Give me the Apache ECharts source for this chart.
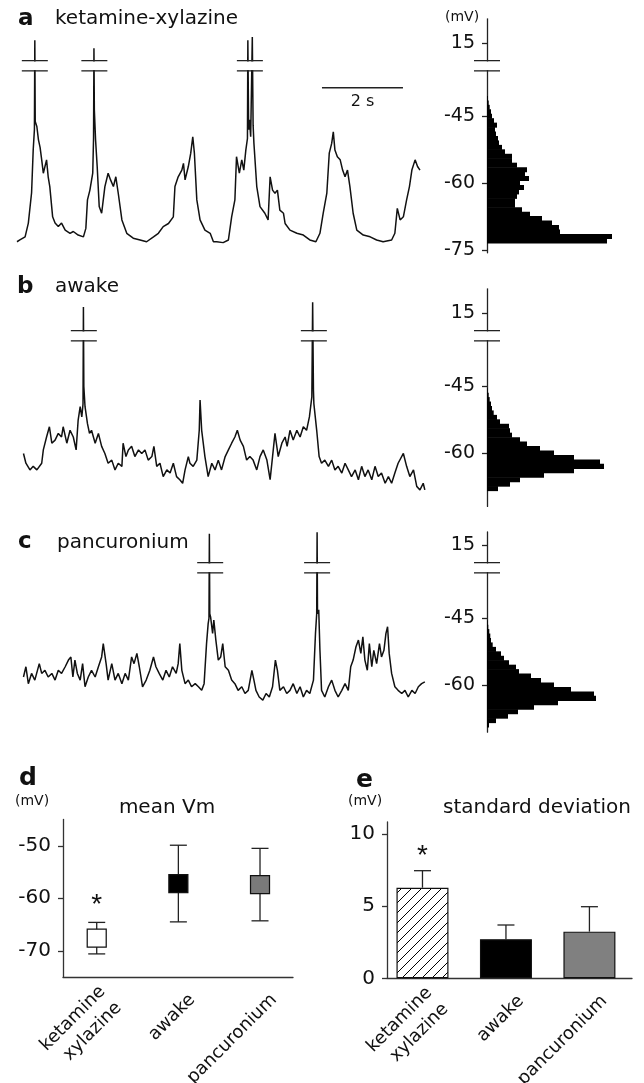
<!DOCTYPE html>
<html><head><meta charset="utf-8">
<script src="https://cdn.jsdelivr.net/npm/echarts@6/dist/echarts.min.js"></script>
<style>html,body{margin:0;padding:0;background:#fff}#c{width:644px;height:1083px}</style>
</head><body><div id="c"></div>
<script>
// ---------- DATA ----------
// membrane potential traces: [time (s), Vm (mV)]
const traceA = [[0.00,-73.2],[0.07,-72.8],[0.20,-72.1],[0.28,-69.0],[0.36,-62.2],[0.40,-52.6],[0.43,-48.0],[0.44,15.6],[0.45,-46.2],[0.49,-47.3],[0.53,-50.3],[0.57,-52.0],[0.61,-54.8],[0.65,-57.8],[0.73,-54.8],[0.77,-58.6],[0.81,-60.8],[0.88,-67.6],[0.94,-69.0],[1.02,-69.8],[1.10,-69.0],[1.19,-70.6],[1.31,-71.3],[1.39,-70.9],[1.51,-71.7],[1.64,-72.1],[1.70,-70.2],[1.74,-63.8],[1.80,-61.6],[1.87,-57.8],[1.89,-50.0],[1.90,13.8],[1.91,-43.6],[1.94,-50.3],[1.98,-56.3],[2.03,-65.3],[2.09,-66.8],[2.17,-60.8],[2.25,-57.8],[2.31,-59.3],[2.38,-60.8],[2.44,-58.6],[2.50,-62.3],[2.59,-68.3],[2.71,-71.3],[2.87,-72.4],[3.04,-72.8],[3.20,-73.2],[3.37,-72.1],[3.49,-71.3],[3.61,-69.8],[3.74,-69.1],[3.86,-67.6],[3.90,-60.8],[3.98,-58.6],[4.07,-57.1],[4.11,-55.6],[4.15,-59.3],[4.23,-56.3],[4.29,-53.3],[4.34,-49.6],[4.38,-53.3],[4.44,-63.8],[4.52,-68.3],[4.64,-70.6],[4.77,-71.3],[4.85,-73.2],[4.93,-73.2],[5.09,-73.4],[5.22,-72.8],[5.30,-67.6],[5.38,-63.8],[5.42,-54.1],[5.49,-57.8],[5.55,-54.8],[5.60,-57.1],[5.65,-52.6],[5.69,-50.0],[5.70,15.6],[5.72,-48.0],[5.74,-45.8],[5.77,-49.6],[5.81,16.3],[5.83,-47.0],[5.85,-51.1],[5.92,-60.8],[6.00,-65.3],[6.12,-66.8],[6.20,-68.3],[6.25,-58.6],[6.31,-61.6],[6.37,-62.3],[6.43,-61.6],[6.49,-66.1],[6.58,-66.8],[6.62,-69.1],[6.74,-70.6],[6.91,-71.3],[7.07,-71.7],[7.23,-72.8],[7.38,-73.2],[7.48,-71.3],[7.56,-66.8],[7.65,-62.3],[7.71,-53.3],[7.77,-51.1],[7.81,-48.5],[7.85,-52.6],[7.91,-54.1],[7.98,-54.8],[8.04,-57.1],[8.10,-58.6],[8.16,-57.1],[8.22,-60.8],[8.30,-66.8],[8.39,-70.6],[8.55,-71.7],[8.72,-72.1],[8.88,-72.8],[9.04,-73.2],[9.25,-72.8],[9.33,-71.3],[9.39,-65.7],[9.46,-68.3],[9.54,-67.6],[9.62,-63.8],[9.69,-60.8],[9.75,-57.1],[9.83,-54.8],[9.89,-56.3],[9.95,-57.1]];
const traceB = [[0.16,-60.1],[0.22,-62.3],[0.32,-63.8],[0.40,-63.0],[0.49,-63.8],[0.61,-62.3],[0.65,-59.3],[0.73,-56.4],[0.80,-54.1],[0.86,-57.8],[0.94,-57.1],[1.02,-55.6],[1.10,-56.4],[1.14,-54.1],[1.23,-57.8],[1.31,-54.9],[1.39,-56.4],[1.46,-59.3],[1.51,-52.6],[1.56,-49.6],[1.60,-51.9],[1.63,-49.0],[1.64,16.3],[1.65,-45.0],[1.68,-49.6],[1.74,-53.4],[1.79,-55.6],[1.84,-54.9],[1.93,-57.8],[2.01,-55.6],[2.09,-58.5],[2.17,-60.1],[2.25,-62.3],[2.34,-61.6],[2.42,-63.8],[2.50,-62.3],[2.59,-63.0],[2.62,-57.8],[2.69,-60.8],[2.75,-59.3],[2.83,-58.5],[2.91,-60.8],[3.00,-59.3],[3.08,-60.1],[3.16,-59.3],[3.24,-61.6],[3.33,-60.8],[3.38,-58.5],[3.45,-63.0],[3.53,-62.3],[3.61,-65.3],[3.70,-63.8],[3.78,-64.5],[3.86,-62.3],[3.94,-65.3],[4.02,-66.0],[4.09,-66.8],[4.15,-63.8],[4.23,-60.8],[4.27,-62.3],[4.35,-63.0],[4.44,-61.6],[4.50,-54.9],[4.52,-48.1],[4.56,-54.9],[4.64,-60.8],[4.72,-65.3],[4.81,-62.3],[4.89,-63.8],[4.97,-61.6],[5.05,-63.8],[5.14,-60.8],[5.22,-59.3],[5.30,-57.8],[5.38,-56.4],[5.44,-54.9],[5.51,-57.1],[5.59,-58.5],[5.67,-61.6],[5.75,-60.8],[5.83,-61.6],[5.92,-63.8],[6.00,-60.8],[6.08,-59.3],[6.17,-61.6],[6.25,-66.0],[6.31,-60.8],[6.37,-55.6],[6.45,-60.8],[6.54,-57.8],[6.62,-56.4],[6.67,-58.5],[6.74,-54.9],[6.82,-57.1],[6.91,-54.9],[6.99,-56.4],[7.07,-54.1],[7.15,-54.9],[7.22,-51.9],[7.28,-47.4],[7.30,17.4],[7.32,-46.0],[7.33,-48.9],[7.40,-54.9],[7.46,-60.8],[7.52,-62.3],[7.60,-61.6],[7.69,-63.0],[7.77,-61.6],[7.85,-63.8],[7.93,-63.0],[8.02,-64.5],[8.10,-62.3],[8.18,-63.8],[8.26,-65.3],[8.35,-63.8],[8.43,-66.0],[8.51,-63.0],[8.59,-65.3],[8.67,-63.8],[8.76,-66.0],[8.84,-63.0],[8.92,-65.3],[9.00,-64.5],[9.09,-66.8],[9.17,-65.3],[9.25,-66.8],[9.33,-64.5],[9.41,-62.3],[9.54,-60.1],[9.62,-63.0],[9.70,-65.3],[9.79,-63.8],[9.87,-67.5],[9.95,-68.3],[10.03,-66.8],[10.07,-68.3]];
const traceC = [[0.16,-58.2],[0.22,-55.9],[0.28,-59.7],[0.36,-57.4],[0.44,-58.9],[0.55,-55.2],[0.61,-57.4],[0.69,-56.7],[0.77,-58.2],[0.86,-57.4],[0.94,-58.9],[1.02,-56.7],[1.10,-57.4],[1.19,-55.9],[1.27,-54.4],[1.33,-53.7],[1.38,-58.2],[1.43,-54.4],[1.49,-57.4],[1.56,-58.9],[1.62,-55.2],[1.68,-60.4],[1.76,-58.2],[1.84,-56.7],[1.93,-58.2],[2.01,-55.9],[2.09,-53.7],[2.13,-50.7],[2.20,-55.2],[2.25,-58.9],[2.34,-55.2],[2.42,-58.9],[2.50,-57.4],[2.59,-59.7],[2.67,-57.4],[2.75,-58.9],[2.83,-53.7],[2.89,-55.2],[2.96,-52.9],[3.02,-55.9],[3.10,-60.4],[3.19,-58.9],[3.28,-56.7],[3.37,-53.7],[3.43,-55.9],[3.51,-57.4],[3.60,-58.9],[3.68,-56.7],[3.76,-58.2],[3.84,-55.9],[3.93,-57.4],[3.98,-55.2],[4.02,-50.7],[4.07,-56.7],[4.15,-59.7],[4.23,-58.9],[4.31,-60.4],[4.40,-59.7],[4.48,-60.4],[4.56,-61.2],[4.62,-59.7],[4.68,-50.7],[4.72,-46.2],[4.74,-45.0],[4.75,17.5],[4.76,-44.0],[4.78,-44.7],[4.83,-48.4],[4.86,-45.4],[4.91,-49.9],[4.97,-54.4],[5.03,-53.7],[5.08,-50.7],[5.14,-55.9],[5.22,-56.7],[5.30,-58.9],[5.38,-59.7],[5.46,-61.2],[5.55,-60.4],[5.63,-61.9],[5.71,-61.2],[5.80,-56.7],[5.85,-58.9],[5.90,-61.2],[5.98,-62.7],[6.07,-63.4],[6.15,-61.9],[6.23,-62.7],[6.31,-60.4],[6.38,-54.4],[6.43,-56.7],[6.49,-61.2],[6.58,-60.4],[6.66,-61.9],[6.74,-61.2],[6.82,-59.7],[6.91,-61.9],[6.99,-60.4],[7.07,-62.7],[7.15,-61.2],[7.23,-61.9],[7.32,-58.9],[7.37,-48.4],[7.40,-44.0],[7.41,17.8],[7.42,-44.0],[7.45,-43.1],[7.48,-52.2],[7.52,-61.2],[7.60,-62.7],[7.69,-60.4],[7.77,-58.9],[7.85,-61.2],[7.93,-62.7],[8.02,-61.2],[8.10,-59.7],[8.18,-61.2],[8.24,-55.9],[8.30,-54.4],[8.37,-51.4],[8.43,-49.9],[8.49,-52.9],[8.54,-49.2],[8.59,-54.4],[8.65,-56.7],[8.70,-50.7],[8.76,-55.9],[8.81,-52.2],[8.88,-55.2],[8.95,-50.7],[9.00,-53.7],[9.06,-52.2],[9.11,-48.4],[9.15,-46.9],[9.19,-52.9],[9.25,-57.4],[9.33,-60.4],[9.41,-61.2],[9.50,-61.9],[9.58,-61.2],[9.66,-62.7],[9.75,-61.2],[9.83,-61.9],[9.91,-60.4],[9.99,-59.7],[10.07,-59.3]];
// times (s) where spikes cross the axis break
const breaksA = [0.44, 1.91, 5.75];
const breaksB = [1.65, 7.33];
const breaksC = [4.77, 7.41];
// Vm histograms (bin centre mV, count)
const histA_mV = [-41,-42,-43,-44,-45,-46,-47,-48,-49,-50,-51,-52,-53,-54,-55,-56,-57,-58,-59,-60,-61,-62,-63,-64,-65,-66,-67,-68,-69,-70,-71,-72,-73];
const histA_n  = [1,1.7,2.7,4,5,7,10,8,9,11,12,15,18,25,25,30,40,38,42,33,37,32,30,28,28,35,43,55,65,72,73,125,120];
const histB_mV = [-46,-47,-48,-49,-50,-51,-52,-53,-54,-55,-56,-57,-58,-59,-60,-61,-62,-63,-64,-65,-66,-67,-68];
const histB_n  = [0.7,1.7,2.7,4,5,6.7,10,13,22,23,25,33,40,53,67,87,113,117,87,57,33,23,11];
const histC_mV = [-46,-47,-48,-49,-50,-51,-52,-53,-54,-55,-56,-57,-58,-59,-60,-61,-62,-63,-64,-65,-66,-67,-68,-69];
const histC_n  = [0.7,1.3,2.3,3.3,4,5.7,9,14,17,22,29,32,44,54,67,84,107,109,71,47,31,21,9,2];
// histogram axis tick labels (mV)
const histTicksA = [-75,-60,-45,15];
const histTicksBC = [-60,-45,15];
// summary
const groups = ['ketamine\nxylazine','awake','pancuronium'];
const meanVm = [-67.6,-57.2,-57.4];
const meanVmSD = [3.0,7.3,6.9];
const sdVm = [6.29,2.71,3.24];
const sdVmErr = [1.18,0.99,1.73];
const meanTicks = [-70,-60,-50];
const sdTicks = [0,5,10];
const significant = [true,false,false];

// ---------- DRAWING ----------
const BREAK_SHIFT = 43.5;            // broken axis: values above break drawn shifted down
const disp = v => v > -20 ? v - BREAK_SHIFT : v;
const BRK_HI = -32.5, BRK_LO = -34.8; // display positions of the break marks
const FONT = 'DejaVu Sans';
const INK = '#111';
const K = 4.45; // px per mV in traces

const panels = [
  {y60:183, max:-23.1, min:-75.7, trace:traceA, brk:breaksA, hm:histA_mV, hn:histA_n, ticks:histTicksA},
  {y60:453, max:-23.1, min:-72.0, trace:traceB, brk:breaksB, hm:histB_mV, hn:histB_n, ticks:histTicksBC},
  {y60:685, max:-25.6, min:-70.6, trace:traceC, brk:breaksC, hm:histC_mV, hn:histC_n, ticks:histTicksBC}
];

const grid = [], xAxis = [], yAxis = [], series = [];
function breakRender(params, api) {
  const p1 = api.coord([api.value(0), BRK_HI]);
  const p2 = api.coord([api.value(0), BRK_LO]);
  const x = p1[0], w = 13;
  return {type:'group', children:[
    {type:'rect', shape:{x:x-w, y:p1[1]+0.8, width:2*w, height:p2[1]-p1[1]-1.6}, style:{fill:'#fff'}},
    {type:'line', shape:{x1:x-w,y1:p1[1],x2:x+w,y2:p1[1]}, style:{stroke:'#222', lineWidth:1.3}},
    {type:'line', shape:{x1:x-w,y1:p2[1],x2:x+w,y2:p2[1]}, style:{stroke:'#222', lineWidth:1.3}}
  ]};
}
panels.forEach((p, i) => {
  const top = p.y60 - (p.max + 60) * K;
  const height = (p.max - p.min) * K;
  const gT = grid.length;
  grid.push({left:17, top:top, width:40.5*10.2, height:height, containLabel:false, outerBoundsMode:'none'});
  xAxis.push({gridIndex:gT, type:'value', min:0, max:10.2, show:false});
  yAxis.push({gridIndex:gT, type:'value', min:p.min, max:p.max, show:false});
  const gH = grid.length;
  grid.push({left:487, top:top, width:130, height:height, containLabel:false, outerBoundsMode:'none'});
  xAxis.push({gridIndex:gH, type:'value', min:0, max:130, show:false});
  const tv = p.ticks.map(disp);
  yAxis.push({gridIndex:gH, type:'value', min:p.min, max:p.max,
    axisLine:{show:true, lineStyle:{color:'#222', width:1.3}},
    axisTick:{show:true, customValues:tv, length:5, lineStyle:{color:'#222', width:1.3}},
    axisLabel:{show:true, customValues:tv, margin:12, fontSize:19, fontFamily:FONT, color:INK,
      formatter: v => String(Math.round(v > -40 ? v + BREAK_SHIFT : v))},
    splitLine:{show:false}});
  series.push({type:'line', xAxisIndex:gT, yAxisIndex:gT, data:p.trace.map(d => [d[0], disp(d[1])]),
    showSymbol:false, symbol:'none', clip:false, animation:false, z:2,
    lineStyle:{color:INK, width:1.5}});
  series.push({type:'custom', xAxisIndex:gT, yAxisIndex:gT, data:p.brk.map(t => [t]), z:5,
    renderItem:breakRender, animation:false, clip:false});
  series.push({type:'custom', xAxisIndex:gH, yAxisIndex:gH, z:3, animation:false,
    data:p.hm.map((m, j) => [p.hn[j], m - 0.5, m + 0.5]),
    renderItem:(params, api) => {
      const a = api.coord([0, api.value(2)]);
      const b = api.coord([api.value(0), api.value(1)]);
      return {type:'rect', shape:{x:a[0], y:a[1]-0.3, width:b[0]-a[0], height:b[1]-a[1]+0.6}, style:{fill:'#000'}};
    }});
  series.push({type:'custom', xAxisIndex:gH, yAxisIndex:gH, data:[[0]], z:6, renderItem:breakRender, animation:false, clip:false});
  if (i === 0) {
    series.push({type:'custom', xAxisIndex:gT, yAxisIndex:gT, data:[[7.53, 9.53]], z:6, animation:false, clip:false,
      renderItem:(params, api) => {
        const a = api.coord([api.value(0), -38.6]);
        const b = api.coord([api.value(1), -38.6]);
        return {type:'group', children:[
          {type:'line', shape:{x1:a[0], y1:a[1], x2:b[0], y2:b[1]}, style:{stroke:'#222', lineWidth:1.3}},
          {type:'text', x:(a[0]+b[0])/2, y:a[1]+14, style:{text:'2 s', fontSize:16, fontFamily:FONT, fill:INK, align:'center', verticalAlign:'middle', textAlign:'center', textVerticalAlign:'middle'}}
        ]};
      }});
  }
});

// hatch pattern for ketamine bar
function hatch() {
  const c = document.createElement('canvas'); c.width = 10; c.height = 10;
  const g = c.getContext('2d');
  g.fillStyle = '#fff'; g.fillRect(0,0,10,10);
  g.strokeStyle = '#000'; g.lineWidth = 1;
  g.beginPath(); g.moveTo(-2,12); g.lineTo(12,-2); g.stroke();
  return c;
}
const fills = [{image:hatch(), repeat:'repeat'}, '#000', '#808080'];
const markerFills = ['#fff', '#000', '#7a7a7a'];

function catAxis(gi, min, max, showLabels) {
  return {gridIndex:gi, type:'value', min:min, max:max,
    axisLine:{show:!showLabels, onZero:false, lineStyle:{color:'#333', width:1.3}},
    axisTick:{show:false}, splitLine:{show:false},
    axisLabel:{show:showLabels, customValues:[1,2,3], rotate:45, margin:20, fontSize:18, fontFamily:FONT, color:INK, lineHeight:23,
      formatter: v => groups[Math.round(v) - 1] || ''}};
}

// panel d
const gD = grid.length;
grid.push({left:63, top:819.5, width:230, height:157.5, containLabel:false, outerBoundsMode:'none'});
xAxis.push(catAxis(gD, 0.587, 3.404, false));
yAxis.push({gridIndex:gD, type:'value', min:-75, max:-45,
  axisLine:{show:true, lineStyle:{color:'#333', width:1.3}},
  axisTick:{show:true, customValues:meanTicks, length:5, lineStyle:{color:'#333', width:1.3}},
  axisLabel:{show:true, customValues:meanTicks, margin:12, fontSize:20, fontFamily:FONT, color:INK},
  splitLine:{show:false}});
const gDL = grid.length;
grid.push({left:63+14, top:819.5, width:230, height:157.5, containLabel:false, outerBoundsMode:'none'});
xAxis.push(catAxis(gDL, 0.587, 3.404, true));
yAxis.push({gridIndex:gDL, type:'value', min:-75, max:-45, show:false});

series.push({type:'custom', xAxisIndex:gD, yAxisIndex:gD, z:3, animation:false,
  data:meanVm.map((m, i) => [i+1, m, meanVmSD[i]]),
  renderItem:(params, api) => {
    const x = api.value(0), m = api.value(1), s = api.value(2);
    const a = api.coord([x, m + s]), b = api.coord([x, m - s]);
    return {type:'group', children:[
      {type:'line', shape:{x1:a[0], y1:a[1], x2:b[0], y2:b[1]}, style:{stroke:'#222', lineWidth:1.3}},
      {type:'line', shape:{x1:a[0]-8.5, y1:a[1], x2:a[0]+8.5, y2:a[1]}, style:{stroke:'#222', lineWidth:1.3}},
      {type:'line', shape:{x1:b[0]-8.5, y1:b[1], x2:b[0]+8.5, y2:b[1]}, style:{stroke:'#222', lineWidth:1.3}}
    ]};
  }});
series.push({type:'scatter', xAxisIndex:gD, yAxisIndex:gD, z:4, animation:false, symbol:'rect', symbolSize:[19,18],
  data:meanVm.map((m, i) => ({value:[i+1, m], itemStyle:{color:markerFills[i], opacity:1, borderColor:'#111', borderWidth:1.2}}))});
series.push({type:'custom', xAxisIndex:gD, yAxisIndex:gD, z:4, animation:false, clip:false,
  data:meanVm.map((m, i) => [i+1, m + meanVmSD[i], significant[i] ? 1 : 0]),
  renderItem:(params, api) => {
    if (!api.value(2)) return null;
    const a = api.coord([api.value(0), api.value(1)]);
    return {type:'text', x:a[0], y:a[1]-17, style:{text:'*', fontSize:28, fontFamily:'Liberation Sans', fill:INK, align:'center', verticalAlign:'middle', textAlign:'center', textVerticalAlign:'middle'}};
  }});

// panel e
const gE = grid.length;
grid.push({left:387, top:822, width:245, height:156.3, containLabel:false, outerBoundsMode:'none'});
xAxis.push(catAxis(gE, 0.575, 3.51, false));
yAxis.push({gridIndex:gE, type:'value', min:0, max:10.85,
  axisLine:{show:true, lineStyle:{color:'#333', width:1.3}},
  axisTick:{show:true, customValues:sdTicks, length:5, lineStyle:{color:'#333', width:1.3}},
  axisLabel:{show:true, customValues:sdTicks, margin:12, fontSize:20, fontFamily:FONT, color:INK},
  splitLine:{show:false}});
const gEL = grid.length;
grid.push({left:387+15, top:822, width:245, height:156.3, containLabel:false, outerBoundsMode:'none'});
xAxis.push(catAxis(gEL, 0.575, 3.51, true));
yAxis.push({gridIndex:gEL, type:'value', min:0, max:10.85, show:false});

series.push({type:'custom', xAxisIndex:gE, yAxisIndex:gE, z:2, animation:false,
  data:sdVm.map((v, i) => [i+1, v, sdVmErr[i]]),
  renderItem:(params, api) => {
    const x = api.value(0), v = api.value(1), s = api.value(2);
    const a = api.coord([x, v + s]), b = api.coord([x, v]);
    return {type:'group', children:[
      {type:'line', shape:{x1:a[0], y1:a[1], x2:b[0], y2:b[1]}, style:{stroke:'#222', lineWidth:1.3}},
      {type:'line', shape:{x1:a[0]-8.5, y1:a[1], x2:a[0]+8.5, y2:a[1]}, style:{stroke:'#222', lineWidth:1.3}}
    ]};
  }});
series.push({type:'bar', xAxisIndex:gE, yAxisIndex:gE, z:3, animation:false, barWidth:52,
  data:sdVm.map((v, i) => ({value:[i+1, v], itemStyle:{color:fills[i], opacity:1, borderColor:'#111', borderWidth:1.2}}))});
series.push({type:'custom', xAxisIndex:gE, yAxisIndex:gE, z:4, animation:false, clip:false,
  data:sdVm.map((v, i) => [i+1, v + sdVmErr[i], significant[i] ? 1 : 0]),
  renderItem:(params, api) => {
    if (!api.value(2)) return null;
    const a = api.coord([api.value(0), api.value(1)]);
    return {type:'text', x:a[0], y:a[1]-14, style:{text:'*', fontSize:28, fontFamily:'Liberation Sans', fill:INK, align:'center', verticalAlign:'middle', textAlign:'center', textVerticalAlign:'middle'}};
  }});

function txt(x, y, s, size, bold, align) {
  return {type:'text', x:x, y:y, silent:true, style:{text:s, fontSize:size, fontFamily:FONT, fontWeight:bold ? 'bold' : 'normal', fill:INK,
    align:align || 'left', verticalAlign:'middle', textAlign:align || 'left', textVerticalAlign:'middle'}};
}
const graphic = [
  txt(18, 19, 'a', 23, true), txt(55, 19, 'ketamine-xylazine', 20),
  txt(445, 17, '(mV)', 14),
  txt(17, 287, 'b', 23, true), txt(55, 287, 'awake', 20),
  txt(18, 542, 'c', 23, true), txt(57, 543, 'pancuronium', 20),
  txt(19, 778, 'd', 25, true), txt(15, 801, '(mV)', 14), txt(167, 808, 'mean Vm', 20, false, 'center'),
  txt(356, 780, 'e', 25, true), txt(348, 801, '(mV)', 14), txt(537, 808, 'standard deviation', 20, false, 'center')
];

const chart = echarts.init(document.getElementById('c'), null, {renderer:'canvas', width:644, height:1083});
chart.setOption({animation:false, backgroundColor:'#fff', textStyle:{fontFamily:FONT},
  grid:grid, xAxis:xAxis, yAxis:yAxis, series:series, graphic:graphic});
</script>
</body></html>
